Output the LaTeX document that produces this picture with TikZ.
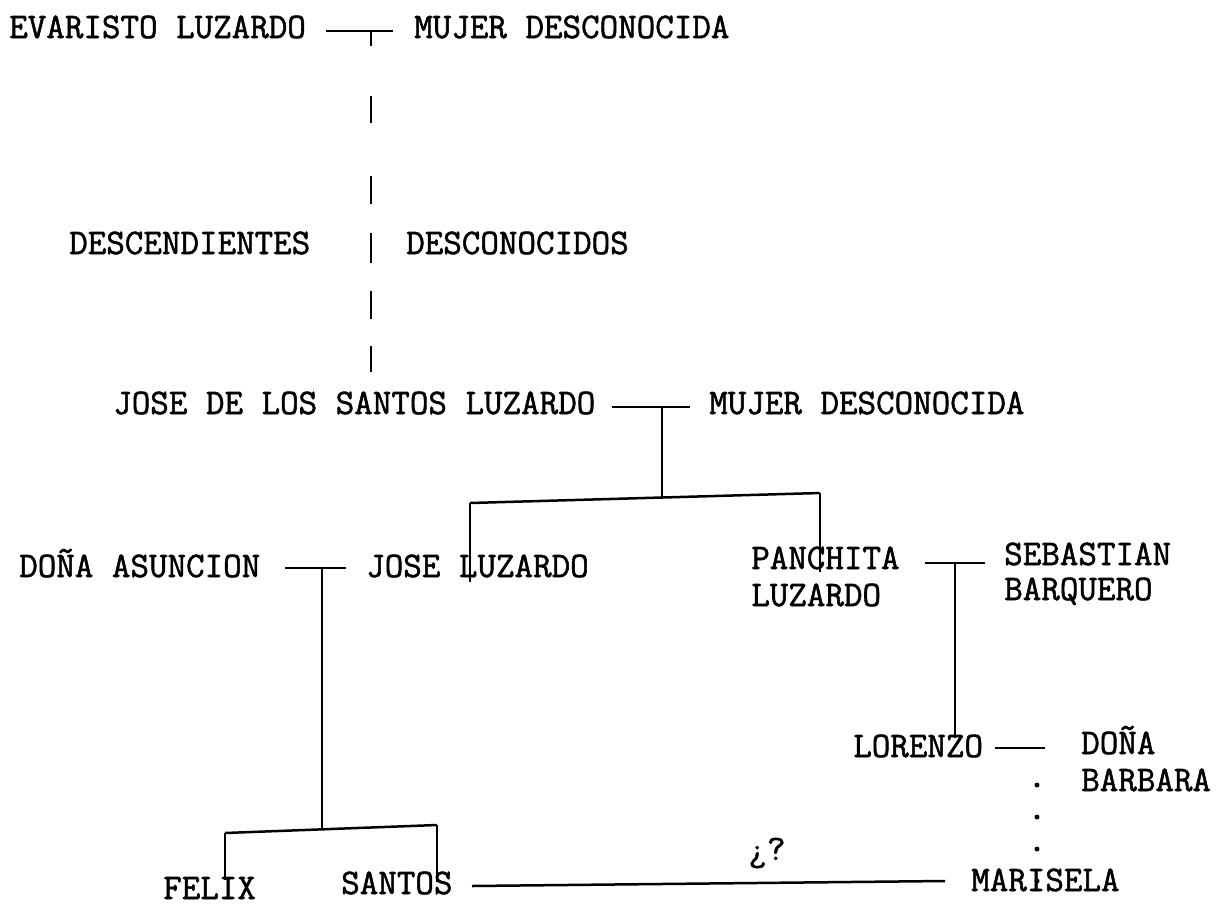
\documentclass[tikz,border=0pt]{standalone}
\usepackage{fontspec}
\newfontfamily\tw[FakeBold=1.5]{Latin Modern Mono}
\begin{document}
\begin{tikzpicture}[x=1pt,y=-1pt,line width=2.5pt,
  tx/.style={anchor=base west,inner sep=0pt,font=\tw\fontsize{36}{40}\selectfont},
  tc/.style={anchor=base,inner sep=0pt,font=\tw\fontsize{36}{40}\selectfont},
  dotline/.style={line width=5pt,line cap=round,dash pattern=on 0pt off 32pt}]
\useasboundingbox (0,0) rectangle (1232,908);
% generation 1
\node[tx] (evaristo) at (8,38) {EVARISTO LUZARDO};
\node[tx] (mujer1) at (413,38) {MUJER DESCONOCIDA};
\coordinate (m1l) at (326,31);
\coordinate (m1r) at (393,31);
\coordinate (m1) at (371,31);
\coordinate (desc) at (371,372);
\draw (m1l) -- (m1r);
\draw[dash pattern=on 15pt off 50pt on 27pt off 53pt on 28pt off 29pt on 30pt off 28pt on 28pt off 27pt on 27pt off 60pt] (m1) -- (desc);
\node[tx] (descend) at (68,254) {DESCENDIENTES};
\node[tx] (descono) at (405,254) {DESCONOCIDOS};
% generation 2
\node[tx] (jsl) at (112,414) {JOSE DE LOS SANTOS LUZARDO};
\node[tx] (mujer2) at (708,414) {MUJER DESCONOCIDA};
\coordinate (m2l) at (612,407);
\coordinate (m2r) at (690,407);
\coordinate (m2) at (662,407);
\coordinate (b2) at (662,498);
\coordinate (b2l) at (470,503);
\coordinate (b2r) at (820,493);
\draw (m2l) -- (m2r);
\draw (m2) -- (b2);
\draw (b2l) -- (b2r);
% generation 3
\node[tx] (asuncion) at (18,577) {DOÑA ASUNCION};
\node[tx] (joseluz) at (365,577) {JOSE LUZARDO};
\node[tx] (panchita) at (750,569) {PANCHITA};
\node[tx] (panchita2) at (750,606) {LUZARDO};
\node[tx] (sebastian) at (1003,565) {SEBASTIAN};
\node[tx] (sebastian2) at (1003,600) {BARQUERO};
\coordinate (jlt) at (470,582);
\coordinate (pct) at (820,572);
\draw (b2l) -- (jlt);
\draw (b2r) -- (pct);
\coordinate (m3l) at (285,568);
\coordinate (m3r) at (346,568);
\coordinate (m3) at (322,568);
\coordinate (b3) at (322,829);
\draw (m3l) -- (m3r);
\draw (m3) -- (b3);
\coordinate (m4l) at (925,563);
\coordinate (m4r) at (985,563);
\coordinate (m4) at (955,563);
\coordinate (lot) at (955,738);
\draw (m4l) -- (m4r);
\draw (m4) -- (lot);
% generation 4
\node[tx] (lorenzo) at (852,757) {LORENZO};
\node[tx] (barbara) at (1080,754) {DOÑA};
\node[tx] (barbara2) at (1080,791) {BARBARA};
\coordinate (m5l) at (995,748);
\coordinate (m5r) at (1045,748);
\draw (m5l) -- (m5r);
\coordinate (d1) at (1037,785);
\coordinate (d2) at (1037,882);
\draw[dotline] (d1) -- (d2);
% generation 5
\node[tx] (felix) at (162,899) {FELIX};
\node[tx] (santos) at (340,894) {SANTOS};
\node[tx] (marisela) at (970,891) {MARISELA};
\coordinate (b5l) at (225,833);
\coordinate (b5r) at (437,825);
\coordinate (fet) at (225,880);
\coordinate (sat) at (437,882);
\draw (b5l) -- (b5r);
\draw (b5l) -- (fet);
\draw (b5r) -- (sat);
\coordinate (sl) at (472,886);
\coordinate (sr) at (945,881);
\draw (sl) -- (sr);
\node[tc] (q) at (767,860) {¿?};
\end{tikzpicture}
\end{document}
